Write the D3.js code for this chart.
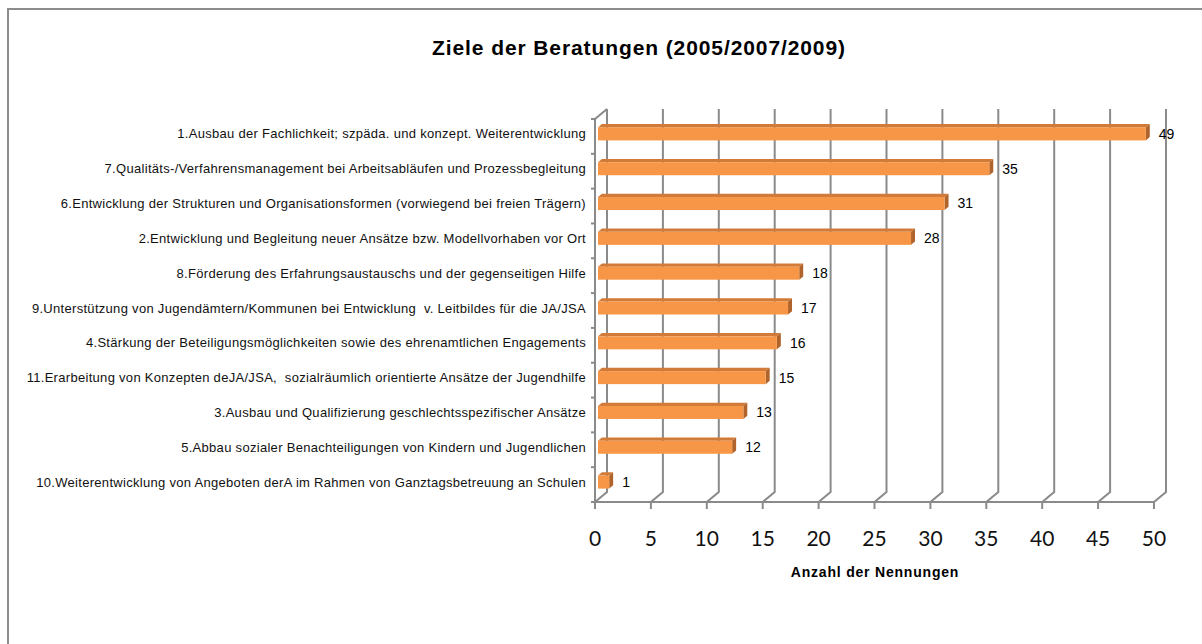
<!DOCTYPE html>
<html>
<head>
<meta charset="utf-8">
<script src="https://cdn.jsdelivr.net/npm/d3@7"></script>
<style>
  html, body { margin: 0; background: #fff; overflow: hidden; }
  svg { display: block; }
  text { white-space: pre; }
</style>
</head>
<body>
<svg id="chart" width="1202" height="644"></svg>
<script>
// data
const categories = [
  "1.Ausbau der Fachlichkeit; szpäda. und konzept. Weiterentwicklung",
  "7.Qualitäts-/Verfahrensmanagement bei Arbeitsabläufen und Prozessbegleitung",
  "6.Entwicklung der Strukturen und Organisationsformen (vorwiegend bei freien Trägern)",
  "2.Entwicklung und Begleitung neuer Ansätze bzw. Modellvorhaben vor Ort",
  "8.Förderung des Erfahrungsaustauschs und der gegenseitigen Hilfe",
  "9.Unterstützung von Jugendämtern/Kommunen bei Entwicklung  v. Leitbildes für die JA/JSA",
  "4.Stärkung der Beteiligungsmöglichkeiten sowie des ehrenamtlichen Engagements",
  "11.Erarbeitung von Konzepten deJA/JSA,  sozialräumlich orientierte Ansätze der Jugendhilfe",
  "3.Ausbau und Qualifizierung geschlechtsspezifischer Ansätze",
  "5.Abbau sozialer Benachteiligungen von Kindern und Jugendlichen",
  "10.Weiterentwicklung von Angeboten derA im Rahmen von Ganztagsbetreuung an Schulen"
];
const values = [49, 35, 31, 28, 18, 17, 16, 15, 13, 12, 1];
const xTicks = [0, 5, 10, 15, 20, 25, 30, 35, 40, 45, 50];
const title = "Ziele der Beratungen (2005/2007/2009)";
const xTitle = "Anzahl der Nennungen";

const svg = d3.select("#chart");
const gridColor = "#8a8a8a";
const arial = "Liberation Sans, Arial, sans-serif";
// depth of the 3d box
const dx = 12, dy = -10;

const x = d3.scaleLinear().domain([0, 50]).range([595, 1154]);
const y = d3.scaleBand().domain(categories).range([119, 502]);

// outer frame (only top + left show inside the picture)
svg.append("rect")
  .attr("x", 8).attr("y", 9).attr("width", 1230).attr("height", 660)
  .attr("fill", "none").attr("stroke", "#8c8c8c").attr("stroke-width", 2);

svg.append("text")
  .attr("x", 639).attr("y", 55)
  .attr("text-anchor", "middle")
  .attr("font-family", arial)
  .attr("font-weight", "bold").attr("font-size", 21)
  .attr("letter-spacing", 0.9)
  .text(title);

// back wall gridlines + floor diagonals
const grid = svg.append("g").attr("stroke", gridColor).attr("stroke-width", 2).attr("fill", "none");
grid.selectAll(".grid")
  .data(xTicks)
  .enter()
  .append("path")
  .attr("class", "grid")
  .attr("d", d => `M${x(d) + dx},${y.range()[0] + dy}V${y.range()[1] + dy}L${x(d)},${y.range()[1]}`);

// left wall
grid.append("path")
  .attr("d", `M${x(0)},${y.range()[1]}V${y.range()[0]}L${x(0) + dx},${y.range()[0] + dy}`);
grid.selectAll(".ltick")
  .data(d3.range(categories.length + 1))
  .enter()
  .append("line")
  .attr("x1", x(0) - 4).attr("x2", x(0))
  .attr("y1", i => y.range()[0] + i * y.step())
  .attr("y2", i => y.range()[0] + i * y.step());

// floor front edge + ticks
grid.append("line")
  .attr("x1", x(0)).attr("x2", x(50))
  .attr("y1", y.range()[1]).attr("y2", y.range()[1]);
grid.selectAll(".xtick")
  .data(xTicks)
  .enter()
  .append("line")
  .attr("x1", d => x(d)).attr("x2", d => x(d))
  .attr("y1", y.range()[1]).attr("y2", y.range()[1] + 7);

svg.append("g")
  .selectAll("text")
  .data(xTicks)
  .enter()
  .append("text")
  .attr("x", d => x(d)).attr("y", 546)
  .attr("text-anchor", "middle")
  .attr("font-family", "Lato, Open Sans, sans-serif")
  .attr("font-size", 21)
  .attr("fill", "#111")
  .text(d => d);

svg.append("text")
  .attr("x", 875).attr("y", 577)
  .attr("text-anchor", "middle")
  .attr("font-family", arial)
  .attr("font-weight", "bold").attr("font-size", 14)
  .attr("letter-spacing", 0.8)
  .text(xTitle);

// 3d bars
const front = 0.25, back = 0.58, barH = 13;
const bars = svg.append("g");
const rows = categories.map((c, i) => ({ c, v: values[i] }));

rows.forEach(r => {
  const cy = y(r.c) + y.bandwidth() / 2 + dy * front;
  const x0 = x(0) + dx * front, x1 = x(r.v) + dx * front;
  const ox = dx * (back - front), oy = dy * (back - front);
  const top = cy - barH / 2, bot = cy + barH / 2;
  // top face
  bars.append("path")
    .attr("d", `M${x0},${top}L${x0 + ox},${top + oy}L${x1 + ox},${top + oy}L${x1},${top}Z`)
    .attr("fill", "#d27a38");
  // side face
  bars.append("path")
    .attr("d", `M${x1},${top}L${x1 + ox},${top + oy}L${x1 + ox},${bot + oy}L${x1},${bot}Z`)
    .attr("fill", "#b0632a");
  // front face
  bars.append("rect")
    .attr("x", x0).attr("y", top)
    .attr("width", x1 - x0).attr("height", barH)
    .attr("fill", "#f79646");
  // value label
  bars.append("text")
    .attr("x", x1 + 13).attr("y", cy)
    .attr("dy", "0.35em")
    .attr("font-family", arial)
    .attr("font-size", 14)
    .text(r.v);
  // category label
  bars.append("text")
    .attr("x", 586).attr("y", cy)
    .attr("dy", "0.35em")
    .attr("text-anchor", "end")
    .attr("font-family", arial)
    .attr("font-size", 13)
    .attr("letter-spacing", 0.3)
    .attr("fill", "#111")
    .text(r.c);
});
</script>
</body>
</html>
